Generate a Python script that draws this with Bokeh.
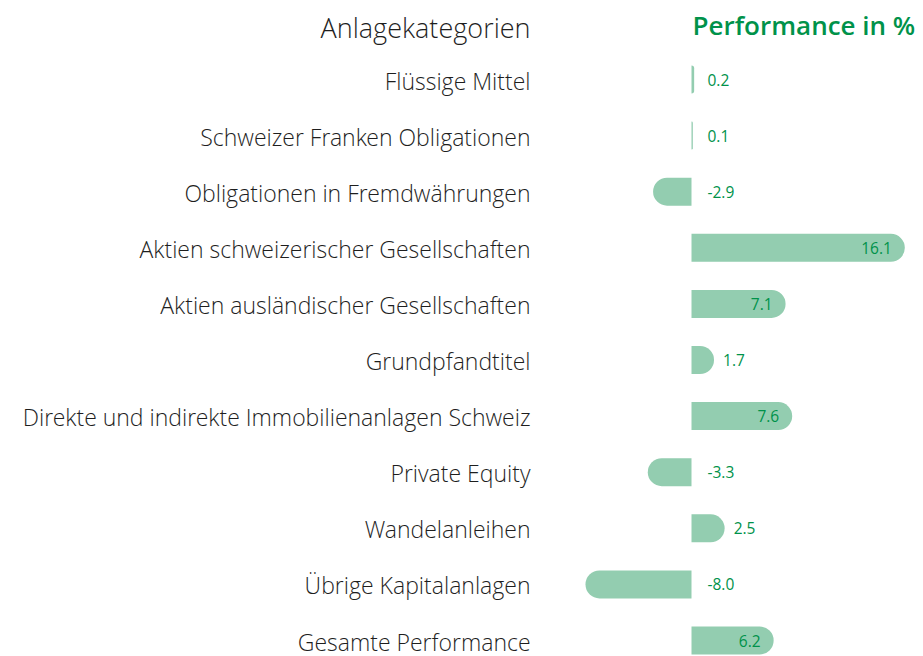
from bokeh.plotting import figure
from bokeh.models import ColumnDataSource, Range1d
from bokeh.core.properties import value
from bokeh.embed import file_html
from bokeh.resources import INLINE

categories = [
    "Flüssige Mittel",
    "Schweizer Franken Obligationen",
    "Obligationen in Fremdwährungen",
    "Aktien schweizerischer Gesellschaften",
    "Aktien ausländischer Gesellschaften",
    "Grundpfandtitel",
    "Direkte und indirekte Immobilienanlagen Schweiz",
    "Private Equity",
    "Wandelanleihen",
    "Übrige Kapitalanlagen",
    "Gesamte Performance",
]
performance = [0.2, 0.1, -2.9, 16.1, 7.1, 1.7, 7.6, -3.3, 2.5, -8.0, 6.2]
header_left = "Anlagekategorien"
header_right = "Performance in %"

BAR = "#93cdb0"
GREEN = "#00924a"
TEXT = "#1e1e1e"
FONT_LIGHT = "Open Sans Light"
FONT = "Open Sans"
FONT_SEMI = "Open Sans SemiBold"

W, H = 923, 656
PX_PER_UNIT = 13.25
ROW_PX = 56.1
x0 = -691 / PX_PER_UNIT
x1 = x0 + W / PX_PER_UNIT
y1 = 79 / ROW_PX
y0 = y1 - H / ROW_PX
LABEL_X = x0 + 530 / PX_PER_UNIT

ys = [-i for i in range(len(categories))]

p = figure(width=W, height=H, output_backend="svg", toolbar_location=None,
           x_range=Range1d(x0, x1), y_range=Range1d(y0, y1),
           min_border=0, outline_line_color=None)
p.axis.visible = False
p.grid.visible = False
p.background_fill_color = "white"
p.border_fill_color = "white"

pos = ColumnDataSource(dict(y=[y for y, v in zip(ys, performance) if v >= 0],
                            v=[v for v in performance if v >= 0]))
neg = ColumnDataSource(dict(y=[y for y, v in zip(ys, performance) if v < 0],
                            v=[v for v in performance if v < 0]))
bar_h = 28 / ROW_PX
p.hbar(y="y", left=0, right="v", height=bar_h, source=pos, fill_color=BAR,
       line_color=None, border_radius=(0, 14, 14, 0))
p.hbar(y="y", left="v", right=0, height=bar_h, source=neg, fill_color=BAR,
       line_color=None, border_radius=(14, 0, 0, 14))

# category labels
p.text(x=[LABEL_X] * len(categories), y=ys, text=categories, y_offset=1,
       text_align="right", text_baseline="middle", text_color=TEXT,
       text_font=value(FONT_LIGHT), text_font_size="23px")

# value labels
lx, ly, lt, loff, lal = [], [], [], [], []
for y, v in zip(ys, performance):
    t = f"{v:.1f}"
    if v < 1:
        lx.append(0); loff.append(16); lal.append("left")
    elif v < 5:
        lx.append(v); loff.append(9); lal.append("left")
    else:
        lx.append(v); loff.append(-13); lal.append("right")
    ly.append(y); lt.append(t)
vs = ColumnDataSource(dict(x=lx, y=ly, t=lt, off=loff, al=lal))
p.text(x="x", y="y", text="t", x_offset="off", text_align="al", source=vs,
       text_baseline="middle", text_color=GREEN, text_font=value(FONT),
       text_font_size="15.5px")

# headers
p.text(x=[LABEL_X], y=[y1 - 27 / ROW_PX], text=[header_left], text_align="right",
       text_baseline="middle", text_color=TEXT, text_font=value(FONT_LIGHT),
       text_font_size="27px")
p.text(x=[0], y=[y1 - 24 / ROW_PX], text=[header_right], x_offset=1, text_align="left",
       text_baseline="middle", text_color=GREEN, text_font=value(FONT_SEMI),
       text_font_size="26px")

open("out.html", "w").write(file_html(p, INLINE))
